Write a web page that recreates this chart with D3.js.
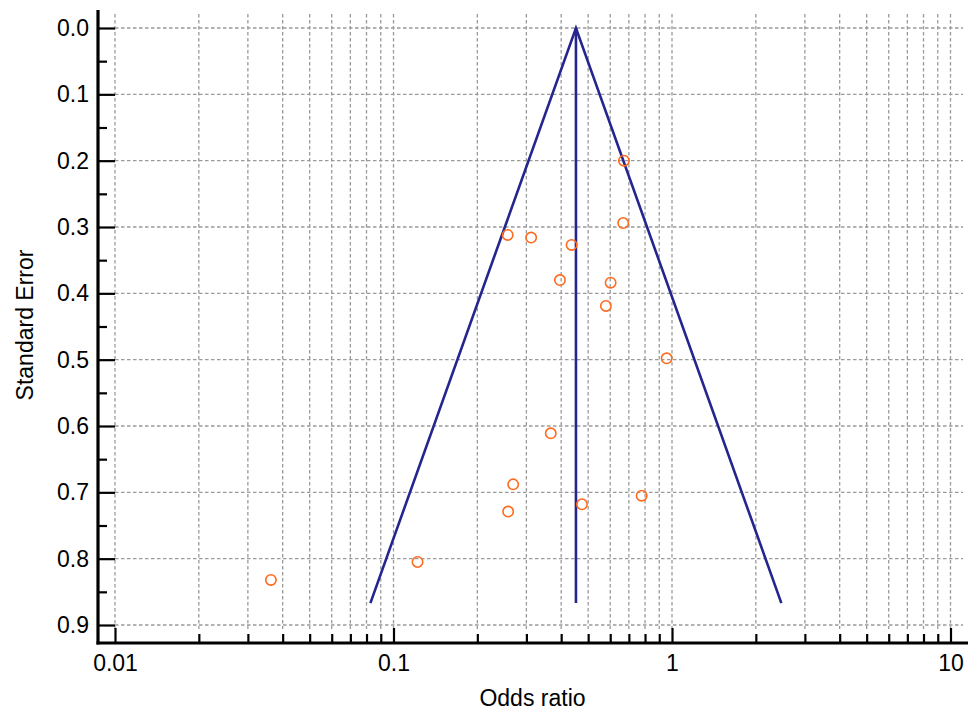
<!DOCTYPE html>
<html>
<head>
<meta charset="utf-8">
<script src="https://cdn.jsdelivr.net/npm/d3@7.9.0/dist/d3.min.js"></script>
<style>
  html, body { margin: 0; padding: 0; background: #fff; }
  svg { display: block; font-family: "Liberation Sans", Arial, sans-serif; }
  .grid line { stroke: #9a9a9a; stroke-width: 1.3; stroke-dasharray: 3.5 2.5; }
  .axis text { font-size: 23px; fill: #000; }
  .axis line { stroke: #000; stroke-width: 2.2; }
</style>
</head>
<body>
<div id="chart"></div>
<script>
// ---------- DATA ----------
const oddsRatios = [0.672, 0.668, 0.257, 0.312, 0.436, 0.396, 0.602, 0.579,
  0.957, 0.367, 0.269, 0.258, 0.475, 0.778, 0.122, 0.0363];
const standardErrors = [0.200, 0.294, 0.312, 0.316, 0.327, 0.380, 0.384, 0.419,
  0.498, 0.611, 0.688, 0.729, 0.718, 0.705, 0.805, 0.832];

// funnel vertices: pooled estimate at apex, 95% limits at the bottom
const funnelOR = [0.0826, 0.452, 2.47];
const funnelSE = [0.867, 0.0, 0.867];
const pooledOR = 0.452;
const pooledSEMax = 0.867;

const xMajorTicks = [0.01, 0.1, 1, 10];
const xMinorTicks = [0.02, 0.03, 0.04, 0.05, 0.06, 0.07, 0.08, 0.09,
  0.2, 0.3, 0.4, 0.5, 0.6, 0.7, 0.8, 0.9, 2, 3, 4, 5, 6, 7, 8, 9];
const yMajorTicks = [0, 0.1, 0.2, 0.3, 0.4, 0.5, 0.6, 0.7, 0.8, 0.9];
const yMinorTicks = [0.05, 0.15, 0.25, 0.35, 0.45, 0.55, 0.65, 0.75, 0.85];

// ---------- LAYOUT ----------
const width = 974;
const height = 713;
const axisX = 98;   // y-axis line
const axisY = 643;  // x-axis line

const svg = d3.select('#chart')
  .append('svg')
  .attr('width', width)
  .attr('height', height);

const xScale = d3.scaleLog().domain([0.01, 10]).range([115, 950.5]);
const yScale = d3.scaleLinear().domain([0, 0.9]).range([28, 625]);

// ---------- GRID ----------
const grid = svg.append('g').attr('class', 'grid');
grid.selectAll('line.v')
  .data(xMajorTicks.concat(xMinorTicks))
  .join('line')
  .attr('class', 'v')
  .attr('x1', (d) => xScale(d)).attr('x2', (d) => xScale(d))
  .attr('y1', 14).attr('y2', 629);

grid.selectAll('line.h')
  .data(yMajorTicks)
  .join('line')
  .attr('class', 'h')
  .attr('x1', 115).attr('x2', 963)
  .attr('y1', (d) => yScale(d)).attr('y2', (d) => yScale(d));

// ---------- AXES ----------
const yMinor = svg.append('g').attr('class', 'axis')
  .attr('transform', `translate(${axisX},0)`)
  .call(d3.axisLeft(yScale).tickValues(yMinorTicks).tickSize(-9).tickFormat(''));
const yMajor = svg.append('g').attr('class', 'axis')
  .attr('transform', `translate(${axisX},0)`)
  .call(d3.axisLeft(yScale).tickValues(yMajorTicks).tickSize(-17).tickPadding(9)
    .tickFormat(d3.format('.1f')));

const xMinor = svg.append('g').attr('class', 'axis')
  .attr('transform', `translate(0,${axisY})`)
  .call(d3.axisBottom(xScale).tickValues(xMinorTicks).tickSize(-9).tickFormat(''));
const xMajor = svg.append('g').attr('class', 'axis')
  .attr('transform', `translate(0,${axisY})`)
  .call(d3.axisBottom(xScale).tickValues(xMajorTicks).tickSize(-15).tickPadding(12)
    .tickFormat((d) => String(d)));

svg.selectAll('.axis .domain').remove();
svg.selectAll('.axis text').attr('font-family', null).attr('font-size', null);

// thick axis lines
svg.append('line')
  .attr('x1', axisX).attr('x2', axisX).attr('y1', 10).attr('y2', axisY + 1.5)
  .attr('stroke', '#000').attr('stroke-width', 3.2);
svg.append('line')
  .attr('x1', axisX - 1.5).attr('x2', 968).attr('y1', axisY).attr('y2', axisY)
  .attr('stroke', '#000').attr('stroke-width', 3.2);

// ---------- FUNNEL ----------
const funnel = funnelOR.map((d, i) => [d, funnelSE[i]]);
const line = d3.line().x((d) => xScale(d[0])).y((d) => yScale(d[1]));

svg.append('path')
  .datum(funnel)
  .attr('d', line)
  .attr('fill', 'none')
  .attr('stroke', '#25258f')
  .attr('stroke-width', 2.6)
  .attr('stroke-linejoin', 'miter');

svg.append('path')
  .datum([[pooledOR, 0], [pooledOR, pooledSEMax]])
  .attr('d', line)
  .attr('fill', 'none')
  .attr('stroke', '#25258f')
  .attr('stroke-width', 2.6);

// ---------- STUDIES ----------
svg.append('g')
  .selectAll('circle')
  .data(oddsRatios.map((d, i) => ({ or: d, se: standardErrors[i] })))
  .join('circle')
  .attr('cx', (d) => xScale(d.or))
  .attr('cy', (d) => yScale(d.se))
  .attr('r', 5.2)
  .attr('fill', 'none')
  .attr('stroke', '#ff6a1c')
  .attr('stroke-width', 1.6);

// ---------- TITLES ----------
svg.append('text')
  .attr('x', 532.5).attr('y', 706)
  .attr('text-anchor', 'middle')
  .attr('font-size', 23)
  .text('Odds ratio');

svg.append('text')
  .attr('transform', 'translate(33,325) rotate(-90)')
  .attr('text-anchor', 'middle')
  .attr('font-size', 23)
  .text('Standard Error');
</script>
</body>
</html>
